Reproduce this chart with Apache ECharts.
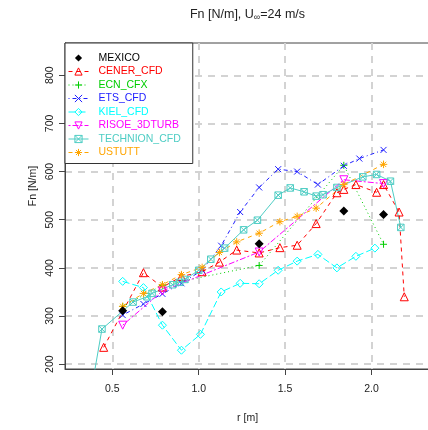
<!DOCTYPE html>
<html>
<head>
<meta charset="utf-8">
<style>
  html, body { margin: 0; padding: 0; background: #fff; }
  #chart { width: 428px; height: 430px; }
</style>
<script src="https://cdn.jsdelivr.net/npm/echarts@6/dist/echarts.min.js"></script>
</head>
<body>
<div id="chart"></div>
<script>
// Normal force Fn [N/m] along the blade radius r [m], U∞ = 24 m/s

const mexicoR  = [0.56, 0.79, 1.35, 1.84, 2.07];
const mexicoFn = [311, 309, 450, 518, 511];

const cenerR  = [0.45, 0.68, 0.79, 0.90, 1.02, 1.12, 1.22, 1.35, 1.47, 1.57, 1.68, 1.80, 1.84, 1.91, 2.03, 2.07, 2.16, 2.19];
const cenerFn = [235, 390, 360, 382, 392, 412, 437, 431, 442, 447, 492, 556, 563, 573, 557, 573, 516, 340];

const ecnR  = [0.56, 0.79, 1.35, 1.84, 2.07];
const ecnFn = [320, 364, 405, 613, 449];

const etsR  = [0.56, 0.68, 0.79, 0.90, 1.02, 1.13, 1.24, 1.35, 1.46, 1.57, 1.69, 1.84, 1.93, 2.07];
const etsFn = [302, 325, 346, 368, 395, 446, 516, 567, 605, 600, 573, 612, 627, 645];

const kielR  = [0.56, 0.68, 0.79, 0.90, 1.01, 1.13, 1.24, 1.35, 1.46, 1.57, 1.69, 1.80, 1.91, 2.02];
const kielFn = [372, 359, 281, 229, 262, 350, 368, 367, 395, 414, 428, 400, 424, 441];

const risoeR  = [0.56, 0.79, 1.35, 1.84, 2.07];
const risoeFn = [281, 352, 433, 583, 575];

const technionR  = [0.35, 0.44, 0.62, 0.70, 0.73, 0.85, 0.89, 0.92, 1.00, 1.07, 1.15, 1.26, 1.34, 1.46, 1.53, 1.61, 1.68, 1.72, 1.80, 1.95, 2.03, 2.11, 2.17];
const technionFn = [88, 273, 329, 340, 347, 365, 370, 376, 395, 418, 441, 479, 499, 551, 566, 558, 549, 552, 567, 589, 594, 580, 484];

const ustuttR  = [0.56, 0.68, 0.79, 0.90, 1.02, 1.12, 1.22, 1.35, 1.47, 1.57, 1.68, 1.84, 2.07];
const ustuttFn = [320, 347, 365, 386, 401, 432, 454, 472, 496, 507, 524, 573, 615];

const xTicks = [0.5, 1.0, 1.5, 2.0];
const yTicks = [200, 300, 400, 500, 600, 700, 800];

const FONT = '"Liberation Sans", Arial, Helvetica, sans-serif';

// open / line-drawn plotting symbols
const SYM_PLUS     = 'path://M5,0V10M0,5H10';
const SYM_CROSS    = 'path://M0,0L10,10M10,0L0,10';
const SYM_STAR     = 'path://M5,0V10M0,5H10M1.5,1.5L8.5,8.5M8.5,1.5L1.5,8.5';
const SYM_BOXCROSS = 'path://M0,0H10V10H0ZM0,0L10,10M10,0L0,10';
const SYM_DOWNTRI  = 'path://M0,0H10L5,8.66Z';

const CLEAR = 'rgba(0,0,0,0)';
const zip = (xs, ys) => xs.map((x, i) => [x, ys[i]]);

const curves = [
  { name: 'CENER_CFD',    r: cenerR,    fn: cenerFn,    color: '#FF0000', dash: [4, 4],       symbol: 'triangle',   size: 8 },
  { name: 'ECN_CFX',      r: ecnR,      fn: ecnFn,      color: '#00CD00', dash: [1, 3],       symbol: SYM_PLUS,     size: 7 },
  { name: 'ETS_CFD',      r: etsR,      fn: etsFn,      color: '#2020FF', dash: [1, 3, 4, 3], symbol: SYM_CROSS,    size: 6 },
  { name: 'KIEL_CFD',     r: kielR,     fn: kielFn,     color: '#00FFFF', dash: [7, 3],       symbol: 'diamond',    size: 8 },
  { name: 'RISOE_3DTURB', r: risoeR,    fn: risoeFn,    color: '#FF00FF', dash: [2, 2, 6, 2], symbol: SYM_DOWNTRI,  size: 8 },
  { name: 'TECHNION_CFD', r: technionR, fn: technionFn, color: '#4ECDC4', dash: 'solid',      symbol: SYM_BOXCROSS, size: 6.5 },
  { name: 'USTUTT',       r: ustuttR,   fn: ustuttFn,   color: '#FFA500', dash: [4, 4],       symbol: SYM_STAR,     size: 7.5 }
];

// measured data: filled diamonds, no connecting line
const mexico = {
  name: 'MEXICO',
  type: 'line',
  data: zip(mexicoR, mexicoFn),
  symbol: 'diamond',
  symbolSize: 9,
  showSymbol: true,
  lineStyle: { width: 0, opacity: 0 },
  itemStyle: { color: '#000', borderWidth: 0 },
  emphasis: { disabled: true },
  z: 3
};

const series = curves.map(c => ({
  name: c.name,
  type: 'line',
  data: zip(c.r, c.fn),
  symbol: c.symbol,
  symbolSize: c.size,
  showSymbol: true,
  clip: true,
  lineStyle: { color: c.color, width: 1, type: c.dash },
  itemStyle: { color: CLEAR, borderColor: c.color, borderWidth: 1 },
  emphasis: { disabled: true },
  z: 2
}));
series.push(mexico);

const legendData = [{
  name: 'MEXICO',
  textStyle: { color: '#000' },
  itemStyle: { color: '#000', borderWidth: 0 },
  lineStyle: { width: 0, opacity: 0 }
}].concat(curves.map(c => ({
  name: c.name,
  textStyle: { color: c.color },
  itemStyle: { color: CLEAR, borderColor: c.color, borderWidth: 1 },
  lineStyle: { color: c.color, width: 1, type: c.dash }
})));

const axisColor = '#444';
const gridLine = { show: true, lineStyle: { color: '#d3d3d3', width: 2, type: [7, 6] } };

const chart = echarts.init(document.getElementById('chart'), null, { renderer: 'canvas' });
chart.setOption({
  animation: false,
  backgroundColor: '#fff',
  grid: {
    left: 65, top: 43, width: 365, height: 326,
    show: true, borderColor: axisColor, borderWidth: 1, backgroundColor: 'transparent',
    containLabel: false, outerBoundsMode: 'none'
  },
  xAxis: {
    type: 'value', min: 0.226, max: 2.339,
    axisLine: { show: true, onZero: false, lineStyle: { color: axisColor, width: 1 } },
    axisTick: { show: true, customValues: xTicks, length: 6, lineStyle: { color: axisColor } },
    axisLabel: { customValues: xTicks, formatter: v => v.toFixed(1), margin: 15,
                 fontFamily: FONT, fontSize: 10.5, color: '#222' },
    splitLine: gridLine
  },
  yAxis: {
    type: 'value', min: 190, max: 867,
    axisLine: { show: true, onZero: false, lineStyle: { color: axisColor, width: 1 } },
    axisTick: { show: true, customValues: yTicks, length: 6, lineStyle: { color: axisColor } },
    axisLabel: { customValues: yTicks, rotate: 90, margin: 9.5,
                 fontFamily: FONT, fontSize: 10.5, color: '#222' },
    splitLine: gridLine
  },
  legend: {
    orient: 'vertical', left: 65, top: 43,
    padding: [9, 12, 5, 3],
    itemWidth: 20, itemHeight: 9, itemGap: 1.5,
    backgroundColor: '#fff', borderColor: '#333', borderWidth: 1, borderRadius: 0,
    selectedMode: false,
    textStyle: { fontFamily: FONT, fontSize: 10.5, lineHeight: 12, padding: [0, 0, 0, 5] },
    data: legendData,
    z: 10
  },
  graphic: [
    {
      type: 'text', x: 247.5, y: 15, z: 10,
      style: {
        text: 'Fn [N/m], U{s|∞}=24 m/s',
        font: '12.5px ' + FONT, fill: '#222',
        textAlign: 'center', textVerticalAlign: 'middle',
        rich: { s: { fontSize: 9, fontFamily: FONT, padding: [6, 0, 0, 0] } }
      }
    },
    {
      type: 'text', x: 247.6, y: 418, z: 10,
      style: { text: 'r [m]', font: '10.5px ' + FONT, fill: '#222',
               textAlign: 'center', textVerticalAlign: 'middle' }
    },
    {
      type: 'text', x: 33, y: 186, rotation: Math.PI / 2, z: 10,
      style: { text: 'Fn [N/m]', font: '10.5px ' + FONT, fill: '#222',
               textAlign: 'center', textVerticalAlign: 'middle' }
    }
  ],
  series: series
});
</script>
</body>
</html>
